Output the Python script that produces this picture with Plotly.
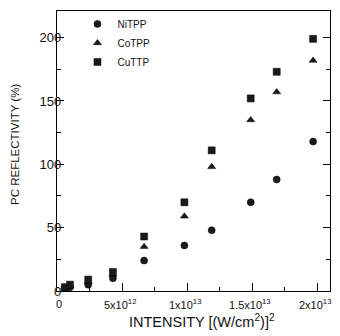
import plotly.graph_objects as go

# Data (x in W^2/cm^4, y in %)
intensity = [0.6e12, 1.0e12, 2.4e12, 4.3e12, 6.7e12, 9.8e12, 11.9e12, 14.9e12, 16.9e12, 19.7e12]
nitpp = [2, 3, 5, 10, 24, 36, 48, 70, 88, 118]
cotpp = [3, 4, 7, 13, 35, 59, 98, 135, 157, 182]
cuttp = [3, 5, 9, 15, 43, 70, 111, 152, 173, 199]

x_tickvals = [0, 5e12, 1e13, 1.5e13, 2e13]
x_ticktext = ["0", "5x10<sup>12</sup>", "1x10<sup>13</sup>", "1.5x10<sup>13</sup>", "2x10<sup>13</sup>"]
y_tickvals = [0, 50, 100, 150, 200]
x_title = "INTENSITY [(W/cm<sup>2</sup>)]<sup>2</sup>"
y_title = "PC REFLECTIVITY (%)"

series = [
    ("NiTPP", nitpp, "circle"),
    ("CoTPP", cotpp, "triangle-up"),
    ("CuTTP", cuttp, "square"),
]

fig = go.Figure()
for name, vals, sym in series:
    fig.add_trace(go.Scatter(
        x=intensity, y=vals, mode="markers", name=name,
        marker=dict(symbol=sym, size=7, color="#1a1a1a",
                    line=dict(color="#000", width=0.5)),
    ))

# x tick labels as text annotations tied to the x axis values
for v, t in zip(x_tickvals, x_ticktext):
    fig.add_annotation(
        x=v, xref="x", y=-0.046, yref="paper", text=t, showarrow=False,
        xanchor="center", yanchor="middle", xshift=(2 if v == 0 else -2),
        font=dict(size=11),
    )

# axis titles as annotations
fig.add_annotation(x=0.531, xref="paper", y=-0.106, yref="paper", text=x_title,
                   showarrow=False, xanchor="center", yanchor="middle", font=dict(size=14.5))
fig.add_annotation(x=-0.154, xref="paper", y=0.525, yref="paper", text=y_title,
                   showarrow=False, xanchor="center", yanchor="middle", textangle=-90,
                   font=dict(size=11.5))

font = "Liberation Sans, Arial, sans-serif"
fig.update_layout(
    width=340, height=336,
    margin=dict(l=57, r=10, t=11, b=45, autoexpand=False),
    paper_bgcolor="white", plot_bgcolor="white",
    font=dict(family=font, color="#111", size=12),
    showlegend=True,
    legend=dict(x=0.075, y=0.972, yref="container", xanchor="left", yanchor="top",
                bgcolor="rgba(0,0,0,0)", font=dict(size=10),
                itemwidth=30, tracegroupgap=0),
    xaxis=dict(
        range=[0, 2.1e13], tickvals=x_tickvals, showticklabels=False,
        ticks="inside", ticklen=8, tickwidth=1, tickcolor="#000",
        minor=dict(dtick=2.5e12, tick0=0, ticks="inside", ticklen=4, tickcolor="#000"),
        showline=True, linecolor="#000", linewidth=1.2, mirror=True,
        showgrid=False, zeroline=False,
    ),
    yaxis=dict(
        range=[0, 221], tickvals=y_tickvals,
        ticks="inside", ticklen=7, tickwidth=1, tickcolor="#000",
        minor=dict(dtick=25, tick0=0, ticks="inside", ticklen=4, tickcolor="#000"),
        showline=True, linecolor="#000", linewidth=1.2, mirror="ticks",
        showgrid=False, zeroline=False,
        tickfont=dict(size=13), ticklabelstandoff=-8,
    ),
)

fig.write_html("out.html", config={"displayModeBar": False},
               post_script="document.body.style.margin='0';document.documentElement.style.margin='0';")
